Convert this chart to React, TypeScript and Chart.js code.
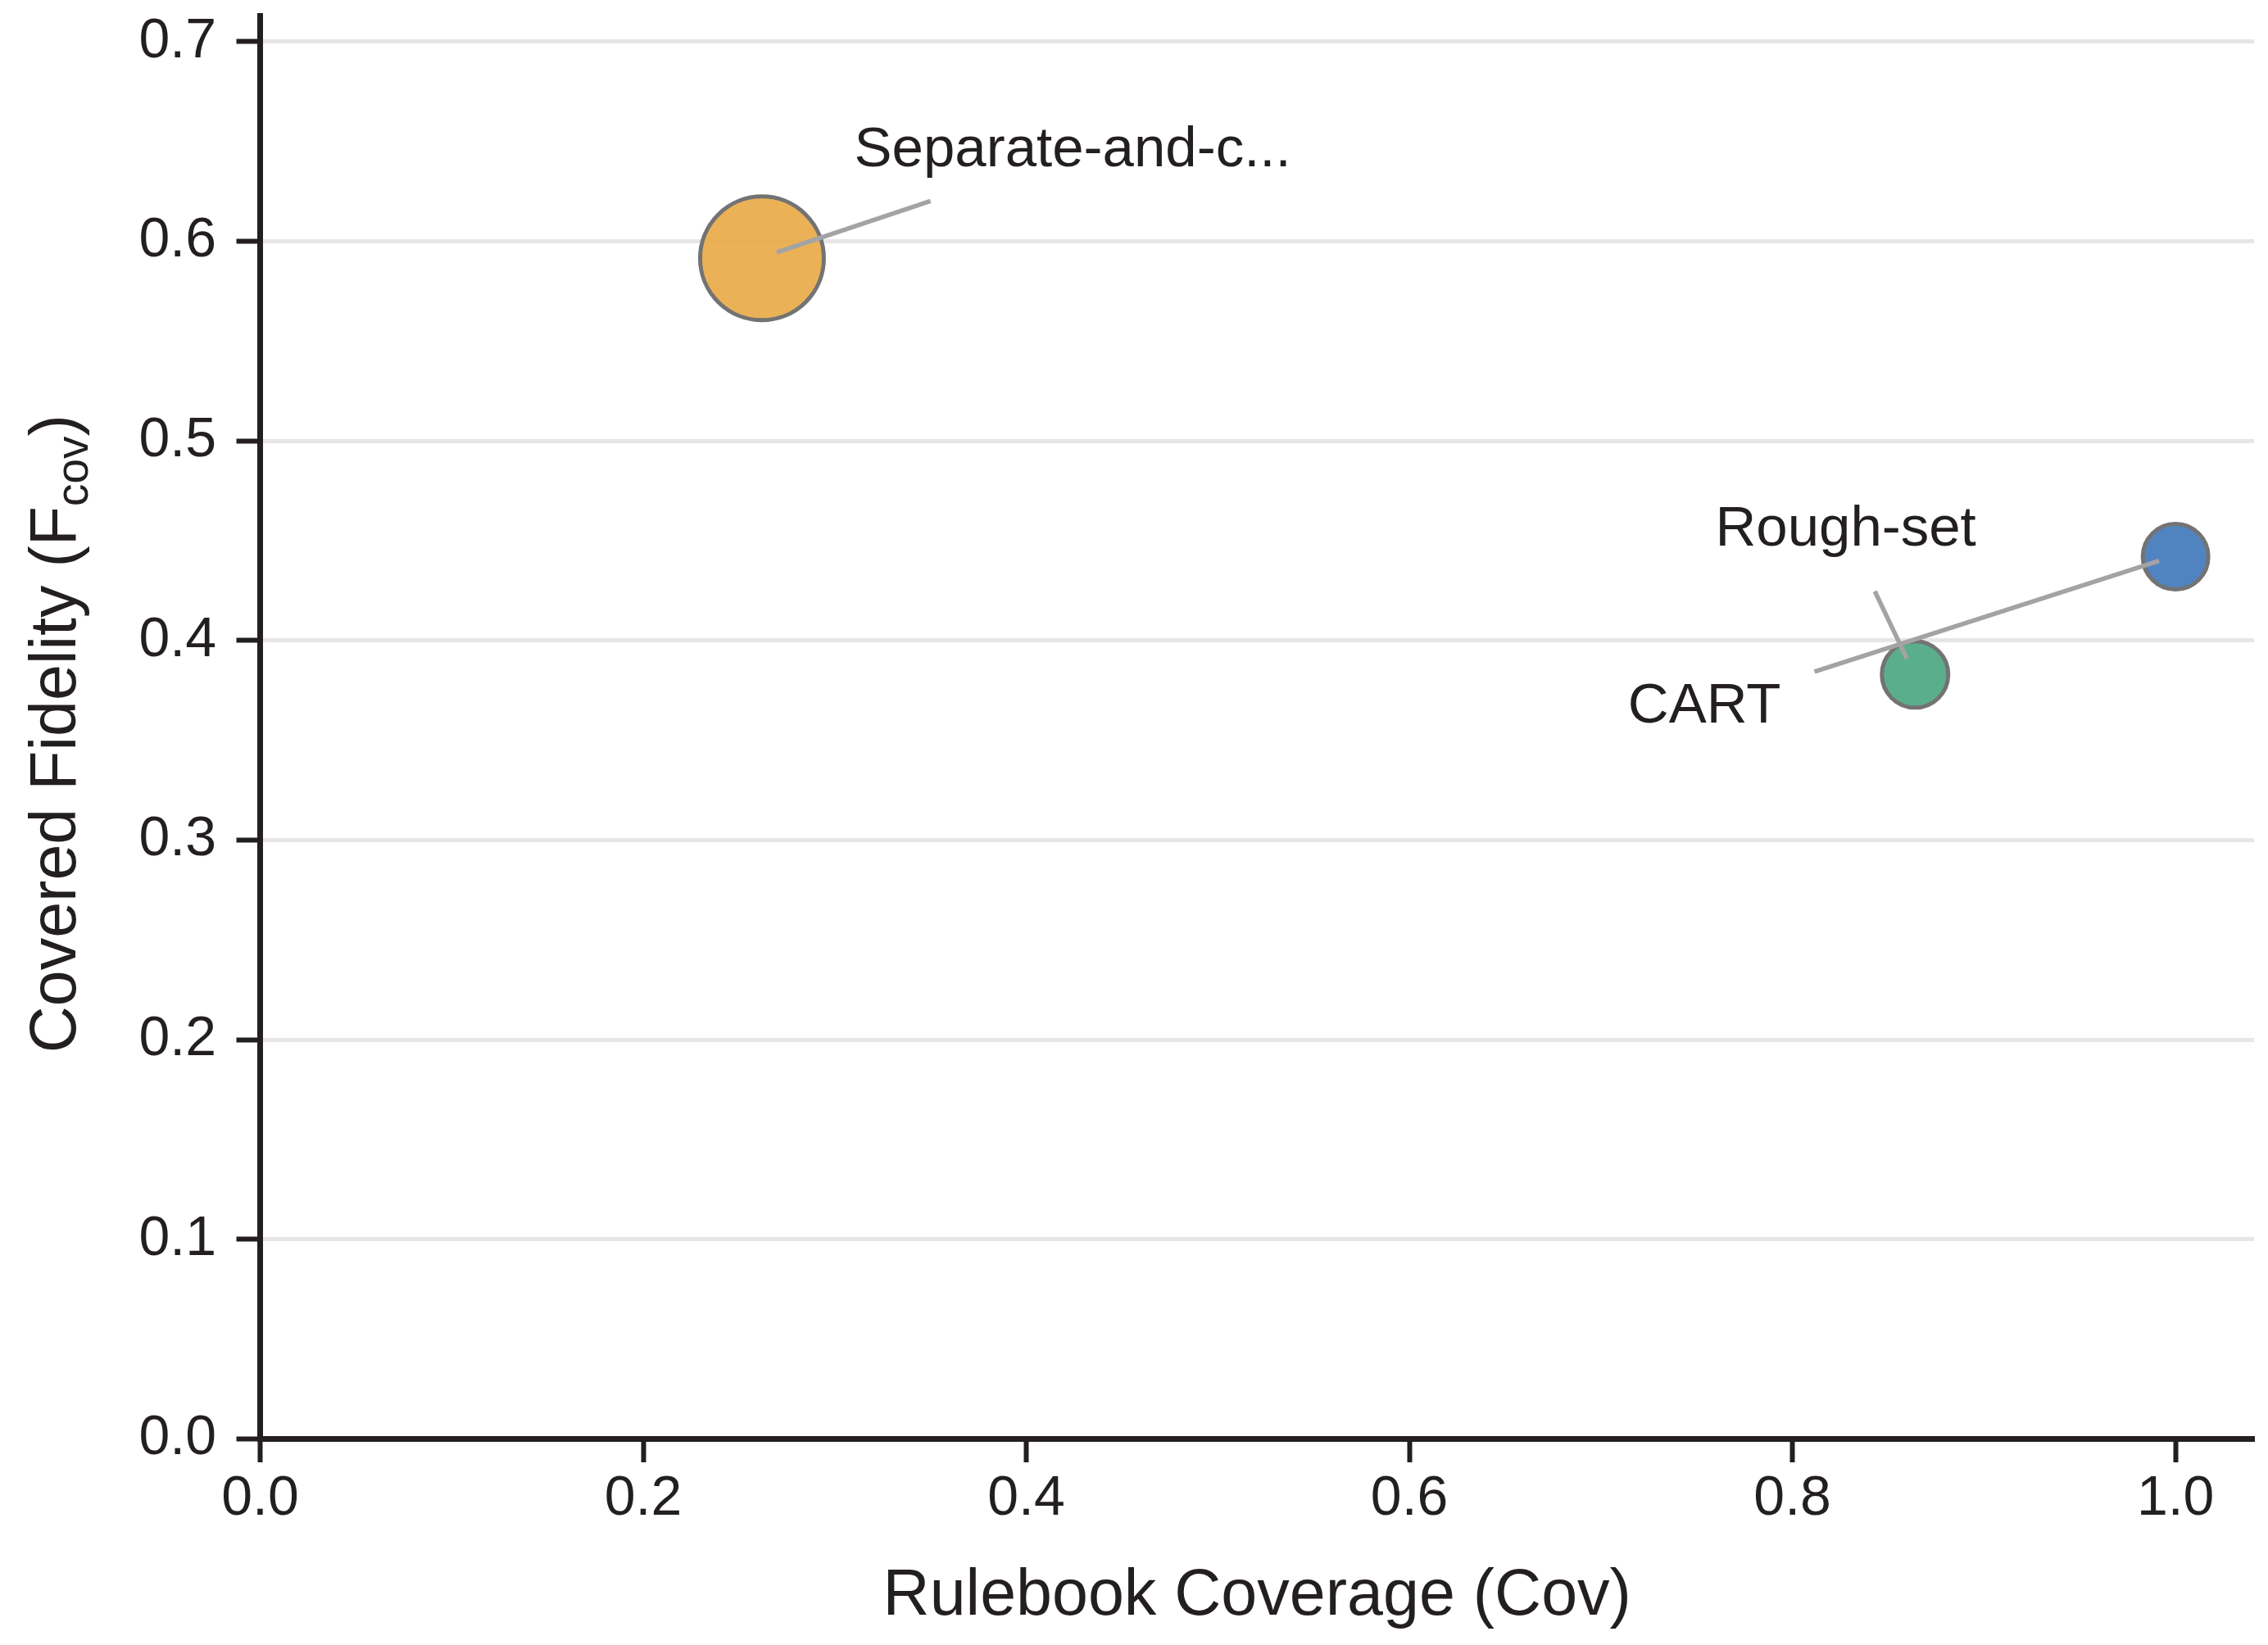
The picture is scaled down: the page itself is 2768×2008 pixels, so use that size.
import React, { useEffect, useRef } from "react";
import { Chart, registerables } from "chart.js";

Chart.register(...registerables);

// ---- data ----
const methodLabels = ["Separate-and-c...", "CART", "Rough-set"];
const coverage = [0.262, 1.0, 0.864];
const fidelity = [0.5915, 0.442, 0.383];
const bubbleRadius = [75.5, 40, 40.5];
const bubbleColors = ["rgba(233,169,68,0.9)", "rgba(61,119,186,0.9)", "rgba(73,165,126,0.9)"];

const xTicks = [0, 0.2, 0.4, 0.6, 0.8, 1.0];
const yTicks = [0, 0.1, 0.2, 0.3, 0.4, 0.5, 0.6, 0.7];

// annotation text anchor (data units, text centre x / baseline y)
const labelX = [0.4242, 0.754, 0.8278];
const labelY = [0.6377, 0.359, 0.4477];
// leader line from label side to point side (data units)
const leaderFromX = [0.35, 0.8115, 0.843];
const leaderFromY = [0.6202, 0.3844, 0.4247];
const leaderToX = [0.2697, 0.9914, 0.8597];
const leaderToY = [0.5944, 0.4399, 0.391];

const xTitle = "Rulebook Coverage (Cov)";
const yTitleMain = "Covered Fidelity (F";
const yTitleSub = "cov";
const yTitleEnd = ")";

const FONT = "'Liberation Sans', Arial, Helvetica, sans-serif";
const INK = "#231F20";

const annotPlugin = {
  id: "annot",
  afterDatasetsDraw(chart: any) {
    const { ctx, scales, chartArea } = chart;
    const x = scales.x;
    const y = scales.y;
    ctx.save();
    ctx.strokeStyle = "#A3A3A5";
    ctx.lineWidth = 5.5;
    for (let i = 0; i < methodLabels.length; i++) {
      ctx.beginPath();
      ctx.moveTo(x.getPixelForValue(leaderFromX[i]), y.getPixelForValue(leaderFromY[i]));
      ctx.lineTo(x.getPixelForValue(leaderToX[i]), y.getPixelForValue(leaderToY[i]));
      ctx.stroke();
    }
    ctx.fillStyle = INK;
    ctx.font = `69px ${FONT}`;
    ctx.textAlign = "center";
    ctx.textBaseline = "alphabetic";
    for (let i = 0; i < methodLabels.length; i++) {
      ctx.fillText(methodLabels[i], x.getPixelForValue(labelX[i]), y.getPixelForValue(labelY[i]));
    }
    // x title
    ctx.font = `79px ${FONT}`;
    ctx.fillText(xTitle, (chartArea.left + chartArea.right) / 2, 1971);
    // y title (rotated, with subscript)
    const mainFont = `79px ${FONT}`;
    const subFont = `55px ${FONT}`;
    ctx.font = mainFont;
    const w1 = ctx.measureText(yTitleMain).width;
    const w3 = ctx.measureText(yTitleEnd).width;
    ctx.font = subFont;
    const w2 = ctx.measureText(yTitleSub).width;
    const total = w1 + w2 + w3;
    const cy = (chartArea.top + chartArea.bottom) / 2 + 8;
    ctx.translate(92, cy);
    ctx.rotate(-Math.PI / 2);
    ctx.textAlign = "left";
    let px = -total / 2;
    ctx.font = mainFont;
    ctx.fillText(yTitleMain, px, 0);
    px += w1;
    ctx.font = subFont;
    ctx.fillText(yTitleSub, px, 15);
    px += w2;
    ctx.font = mainFont;
    ctx.fillText(yTitleEnd, px, 0);
    ctx.restore();
  },
};

export default function App() {
  const ref = useRef<HTMLCanvasElement | null>(null);
  useEffect(() => {
    if (!ref.current) return;
    const chart = new Chart(ref.current, {
      type: "bubble",
      data: {
        datasets: [
          {
            data: coverage.map((c, i) => ({ x: c, y: fidelity[i], r: bubbleRadius[i] })),
            backgroundColor: bubbleColors,
            borderColor: "#737373",
            borderWidth: 5,
            hoverBorderWidth: 5,
            clip: false as any,
          },
        ],
      },
      options: {
        responsive: false,
        animation: false,
        devicePixelRatio: 1,
        events: [],
        layout: { autoPadding: false, padding: { top: 19, right: 17, left: 0, bottom: 0 } },
        plugins: { legend: { display: false }, tooltip: { enabled: false } },
        scales: {
          x: {
            type: "linear",
            min: 0,
            max: 1.041,
            afterBuildTicks: (s: any) => {
              s.ticks = xTicks.map((v) => ({ value: v }));
            },
            afterFit: (s: any) => {
              s.height = 251.5;
              s.paddingLeft = 0;
              s.paddingRight = 0;
            },
            grid: {
              drawOnChartArea: false,
              drawTicks: true,
              tickLength: 28.5,
              tickWidth: 6,
              tickColor: INK,
            },
            border: { display: true, color: INK, width: 7 },
            ticks: {
              font: { family: FONT, size: 68 },
              color: INK,
              padding: 4,
              maxRotation: 0,
              autoSkip: false,
              callback: (v: any) => Number(v).toFixed(1),
            },
          },
          y: {
            type: "linear",
            min: 0,
            max: 0.7131,
            afterBuildTicks: (s: any) => {
              s.ticks = yTicks.map((v) => ({ value: v }));
            },
            afterFit: (s: any) => {
              s.width = 317.5;
              s.paddingTop = 0;
              s.paddingBottom = 0;
            },
            grid: {
              color: "#E6E6E6",
              lineWidth: 5,
              drawTicks: true,
              tickLength: 29,
              tickWidth: 6,
              tickColor: INK,
            },
            border: { display: true, color: INK, width: 7 },
            ticks: {
              font: { family: FONT, size: 68 },
              color: INK,
              padding: 24.5,
              autoSkip: false,
              callback: (v: any) => Number(v).toFixed(1),
            },
          },
        },
      },
      plugins: [annotPlugin],
    });
    return () => chart.destroy();
  }, []);
  return (
    <div style={{ position: "fixed", left: 0, top: 0, width: 2768, height: 2008, background: "#fff" }}>
      <canvas ref={ref} width={2768} height={2008} style={{ width: 2768, height: 2008, display: "block" }} />
    </div>
  );
}
